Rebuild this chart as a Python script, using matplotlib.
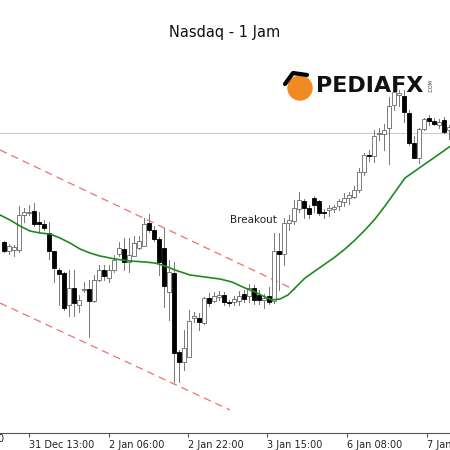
import matplotlib
matplotlib.use("Agg")
import matplotlib.pyplot as plt
import numpy as np
from matplotlib.patches import Rectangle, Circle

# candle readings (screen-level units, larger = lower): open, close, high, low
opens  = [242,251,250,250,215,213,211,222,224,233,251,270,273,305,288,305,290,289,301,280,270,278,270,254,249,262,256,248,246,223,230,239,248,292,273,352,362,357,318,318,323,298,301,297,295,
          302,302,301,294,296,288,295,300,296,301,251,254,223,221,209,201,208,198,201,212,210,209,206,202,198,197,190,172,155,156,134,134,128,105,95,96,113,143,158,129,118,121,125,120,130]
closes = [251,246,247,215,212,212,224,224,228,251,268,274,308,288,303,300,289,301,280,270,276,270,260,248,262,255,243,241,224,230,239,262,286,272,353,362,348,321,316,322,298,303,296,295,302,
          303,299,296,299,288,300,300,298,302,251,254,223,220,208,200,208,214,205,213,213,208,207,201,198,195,190,172,155,156,136,133,130,106,92,93,112,143,158,129,119,121,124,122,132,127]
highs  = [241,244,245,206,208,205,203,212,220,222,251,268,272,270,270,295,282,280,275,265,265,265,255,242,238,238,236,236,218,214,226,237,228,260,262,350,330,310,312,313,297,293,292,291,292,
          300,296,291,290,284,285,290,294,287,233,233,218,215,200,192,199,205,196,200,209,205,205,199,193,192,186,168,153,150,130,128,124,97,88,90,90,110,136,128,118,115,118,119,117,125]
lows   = [252,254,256,252,222,215,226,232,230,259,282,305,310,316,316,312,292,337,302,281,280,282,272,256,270,272,250,249,246,232,241,275,307,320,382,382,370,325,322,330,324,306,302,300,305,
          306,305,305,302,302,304,304,308,304,303,290,265,230,224,212,218,218,212,215,218,216,212,210,206,204,198,192,175,161,162,140,150,164,110,106,122,145,158,163,130,125,125,128,133,139]

ma_x = [0,10,20,30,40,50,60,70,80,90,100,115,130,145,155,165,175,190,205,220,232,245,255,265,272,280,288,296,305,315,325,335,345,355,365,375,385,395,405,415,425,435,445,452]
ma_y = [215,220,226,231,233,234,238,243,249,253,256,259,261,262,263,266,270,275,277,279,282,288,292,297,300,299,295,287,278,271,264,257,249,240,230,219,206,192,178,171,164,157,150,145]

tick_pos = [29,109,188,267,347,427]
tick_labels = ["31 Dec 13:00","2 Jan 06:00","2 Jan 22:00","3 Jan 15:00","6 Jan 08:00","7 Jan 01:00"]

def lvl(v): return 450 - np.asarray(v, dtype=float)

fig = plt.figure(figsize=(4.5,4.5), dpi=100)
ax = fig.add_axes([0, 17/450, 1, 433/450])
ax.set_xlim(0, 450); ax.set_ylim(17, 450)
for s in ["top","left","right"]: ax.spines[s].set_visible(False)
ax.spines["bottom"].set_color("#555555")
ax.set_yticks([])
ax.set_xticks(tick_pos)
ax.set_xticklabels(tick_labels, fontsize=7, ha="left", color="#222222")
ax.tick_params(axis="x", length=3, pad=2, color="#555555")
fig.text(0.002, 1-439/450, "0", fontsize=7, ha="center", va="center", color="#222222")

ax.axhline(lvl(133), color="#cccccc", lw=0.8)

# channel lines
ax.plot([0,295], lvl([150,290]), ls=(0,(6,4)), color="#f07070", lw=0.9)
ax.plot([0,230], lvl([303,410]), ls=(0,(6,4)), color="#f07070", lw=0.9)

o, c, h, l = lvl(opens), lvl(closes), lvl(highs), lvl(lows)
for i in range(len(o)):
    x = 4 + 5*i
    ax.plot([x,x],[l[i],h[i]], color="#777777", lw=0.7, zorder=2)
    bull = c[i] >= o[i]
    lo, hi = min(o[i],c[i]), max(o[i],c[i])
    ax.add_patch(Rectangle((x-1.6, lo), 3.2, max(hi-lo,0.8),
                 facecolor="white" if bull else "black", edgecolor="#666666" if bull else "black", lw=0.6, zorder=3))

ax.plot(ma_x, lvl(ma_y), color="#1f8a1f", lw=1.2, zorder=4)

ax.text(230, lvl(220), "Breakout", fontsize=7.5, va="center", color="#222222")
fig.text(0.5, 1-32/450, "Nasdaq - 1 Jam", ha="center", va="center", fontsize=10.5, color="#111111")

# logo
ax.add_patch(Circle((300, lvl(88)), 12, color="#f08a24", zorder=5))
ax.plot([285,293,307], lvl([84,73,75]), color="black", lw=3, zorder=6, solid_capstyle="round")
ax.text(316, lvl(86), "PEDIAFX", fontsize=16, fontweight="bold", va="center", color="#111111", zorder=6)
ax.text(428, lvl(86), ".COM", fontsize=3.5, rotation=90, va="center", color="#333333")

fig.savefig("out.png", dpi=100)
